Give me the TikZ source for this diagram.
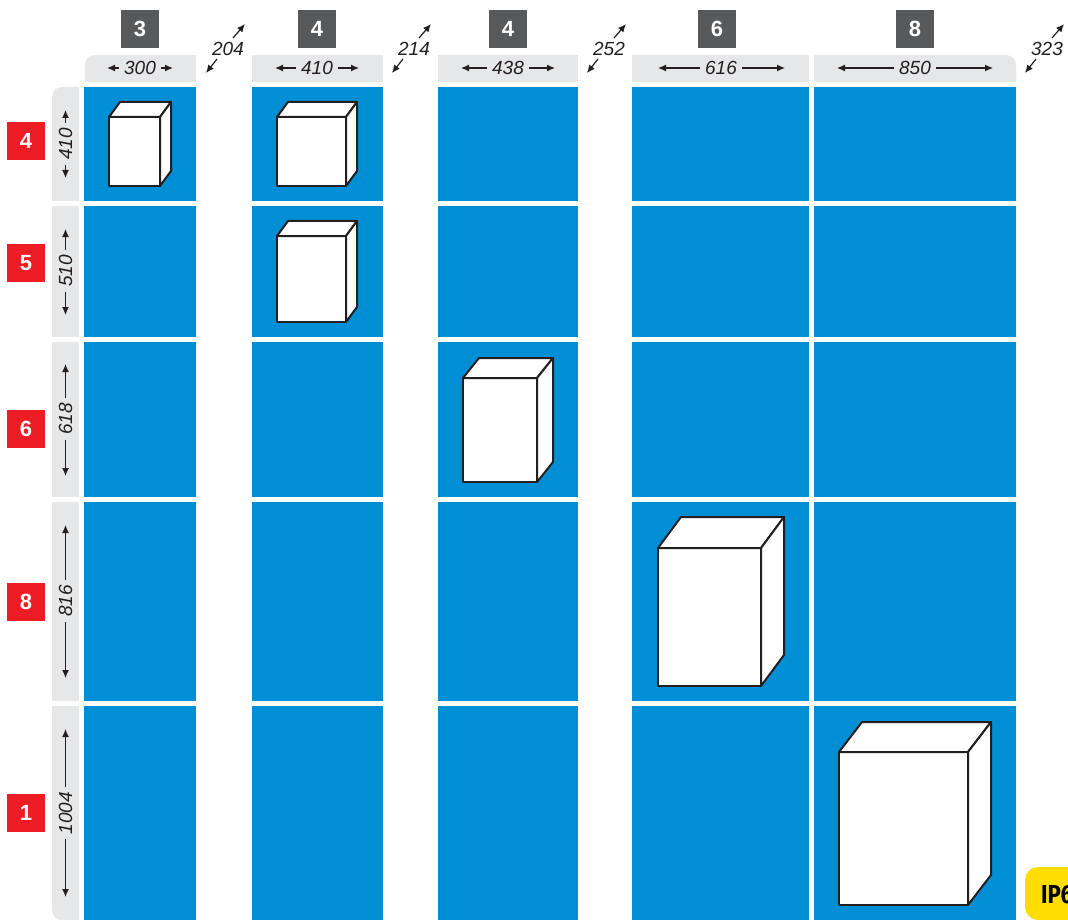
\documentclass[tikz,border=0pt]{standalone}
\usepackage{fontspec}
\setmainfont{Liberation Sans}
\newfontfamily\ipfont{Fira Sans}
\usetikzlibrary{arrows.meta}
\definecolor{cellblue}{HTML}{008FD5}
\definecolor{headgray}{HTML}{E6E7E8}
\definecolor{badgegray}{HTML}{58595B}
\definecolor{badgered}{HTML}{EE1C25}
\definecolor{ipyellow}{HTML}{FFDD00}
\definecolor{inkdark}{HTML}{231F20}
\tikzset{
  cell/.style={fill=cellblue,draw=none},
  head/.style={fill=headgray,draw=none},
  badge/.style={minimum size=38pt,inner sep=0pt,text=white,font=\fontsize{22}{22}\selectfont\bfseries},
  colbadge/.style={badge,fill=badgegray},
  rowbadge/.style={badge,fill=badgered},
  dimtext/.style={inner sep=0pt,text=inkdark,font=\fontsize{19}{19}\selectfont\itshape},
  dimarrow/.style={draw=inkdark,line width=1.2pt,-{Latex[length=8pt,width=7pt]}},
  boxline/.style={draw=inkdark,line width=2pt,fill=white,line join=round},
}
% #1 x0, #2 y0 (front top-left), #3 x1, #4 y1 (front bottom-right), #5 dx, #6 dy
\newcommand{\cabinet}[6]{%
  \path[boxline] (#1,#2) rectangle (#3,#4);
  \path[boxline] (#1,#2) -- ({#1+#5},{#2-#6}) -- ({#3+#5},{#2-#6}) -- (#3,#2) -- cycle;
  \path[boxline] (#3,#2) -- ({#3+#5},{#2-#6}) -- ({#3+#5},{#4-#6}) -- (#3,#4) -- cycle;
}
% #1 name, #2 text, #3 cx, #4 left tip, #5 right tip
\newcommand{\hdim}[5]{%
  \node[dimtext] (#1) at (#3,68) {#2};
  \coordinate (#1L) at (#4,68);
  \coordinate (#1R) at (#5,68);
  \draw[dimarrow] ([xshift=-5pt]#1.west) -- (#1L);
  \draw[dimarrow] ([xshift=5pt]#1.east) -- (#1R);
}
% #1 name, #2 text, #3 cy, #4 top tip, #5 bottom tip
\newcommand{\vdim}[5]{%
  \node[dimtext,rotate=90] (#1) at (65.5,#3) {#2};
  \coordinate (#1T) at (65.5,#4);
  \coordinate (#1B) at (65.5,#5);
  \draw[dimarrow] ([yshift=5pt]#1.east) -- (#1T);
  \draw[dimarrow] ([yshift=-5pt]#1.west) -- (#1B);
}
% #1 name, #2 text, #3 cx
\newcommand{\ddim}[3]{%
  \node[dimtext] (#1) at (#3,49) {#2};
  \coordinate (#1a) at ({#3+5},38);
  \coordinate (#1b) at ({#3+17},24);
  \coordinate (#1c) at ({#3-11},59);
  \coordinate (#1d) at ({#3-22},73);
  \draw[dimarrow] (#1a) -- (#1b);
  \draw[dimarrow] (#1c) -- (#1d);
}
\begin{document}
\begin{tikzpicture}[x=1pt,y=-1pt]
\useasboundingbox (0,0) rectangle (1068,920);
\clip (0,0) rectangle (1068,920);
\fill[white] (0,0) rectangle (1068,920);
% cells
\foreach \xa/\xb in {84/196,252/383,438/578,632/809,814/1016}
  \foreach \ya/\yb in {87/201,206/337,342/497,502/701,706/920}
    \path[cell] (\xa,\ya) rectangle (\xb,\yb);
% column heads
\path[head] (85,82) -- (85,65) arc[start angle=180,end angle=90,radius=10pt] -- (196,55) -- (196,82) -- cycle;
\path[head] (252,55) rectangle (383,82);
\path[head] (438,55) rectangle (578,82);
\path[head] (632,55) rectangle (809,82);
\path[head] (814,82) -- (814,55) -- (1006,55) arc[start angle=90,end angle=0,radius=10pt] -- (1016,82) -- cycle;
% row heads
\path[head] (52,201) -- (52,97) arc[start angle=180,end angle=90,radius=10pt] -- (79,87) -- (79,201) -- cycle;
\path[head] (52,206) rectangle (79,337);
\path[head] (52,342) rectangle (79,497);
\path[head] (52,502) rectangle (79,701);
\path[head] (52,706) -- (52,910) arc[start angle=180,end angle=270,radius=10pt] -- (79,920) -- (79,706) -- cycle;
% badges
\node[colbadge] (c1) at (140,29) {3};
\node[colbadge] (c2) at (317,29) {4};
\node[colbadge] (c3) at (508,29) {4};
\node[colbadge] (c4) at (717,29) {6};
\node[colbadge] (c5) at (915,29) {8};
\node[rowbadge] (r1) at (26,141) {4};
\node[rowbadge] (r2) at (26,263) {5};
\node[rowbadge] (r3) at (26,429) {6};
\node[rowbadge] (r4) at (26,602) {8};
\node[rowbadge] (r5) at (26,813) {1};
% horizontal dimensions
\hdim{w1}{300}{140}{107}{173}
\hdim{w2}{410}{317}{275}{359}
\hdim{w3}{438}{508}{461}{555}
\hdim{w4}{616}{721}{658}{785}
\hdim{w5}{850}{915}{837}{993}
% vertical dimensions
\vdim{h1}{410}{144}{110}{178}
\vdim{h2}{510}{271}{229}{315}
\vdim{h3}{618}{419}{364}{476}
\vdim{h4}{816}{601}{525}{678}
\vdim{h5}{1004}{813}{729}{897}
% depth dimensions
\ddim{d1}{204}{228}
\ddim{d2}{214}{414}
\ddim{d3}{252}{609}
\ddim{d4}{323}{1047}
% cabinets
\cabinet{109}{117}{160}{186}{11}{15}
\cabinet{277}{117}{346}{186}{11}{15}
\cabinet{277}{236}{346}{322}{11}{15}
\cabinet{463}{378}{537}{482}{16}{20}
\cabinet{658}{548}{761}{686}{23}{31}
\cabinet{839}{752}{968}{905}{23}{30}
% IP tag
\path[fill=ipyellow,rounded corners=13pt] (1025,920) -- (1025,867) -- (1090,867) -- (1090,920) -- cycle;
\node[anchor=base west,inner sep=0pt,text=black,font=\ipfont\fontsize{26}{26}\selectfont\bfseries,xscale=.85] (ip) at (1041,903) {IP6};
\end{tikzpicture}
\end{document}
